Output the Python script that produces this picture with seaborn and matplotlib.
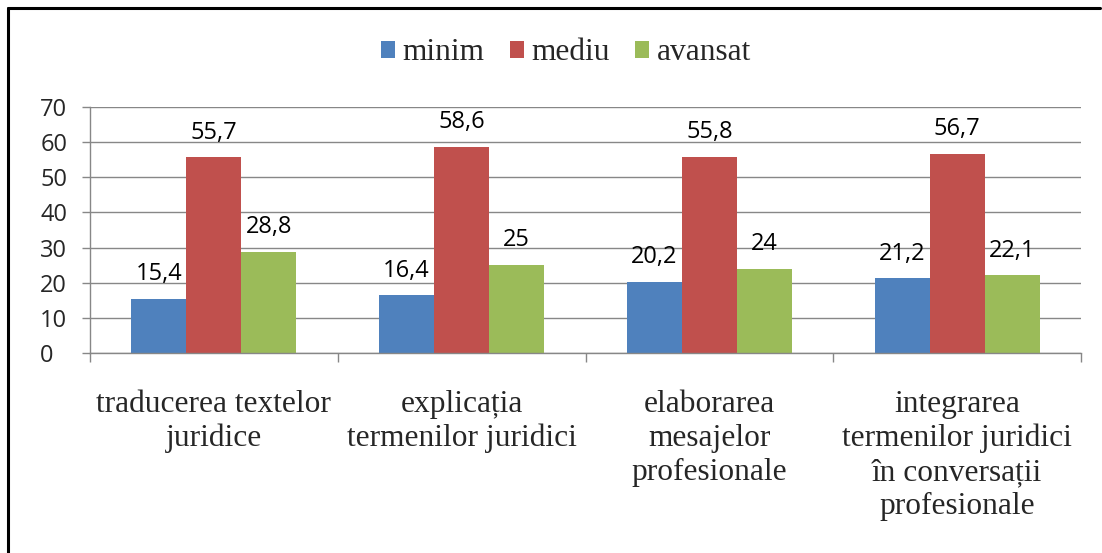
import matplotlib
matplotlib.use("Agg")
import matplotlib.pyplot as plt
from matplotlib.lines import Line2D
import seaborn as sns
import pandas as pd

# Survey results (%) per competence and level
categories = [
    "traducerea textelor\njuridice",
    "explicația\ntermenilor juridici",
    "elaborarea\nmesajelor\nprofesionale",
    "integrarea\ntermenilor juridici\nîn conversații\nprofesionale",
]
levels = ["minim", "mediu", "avansat"]
minim = [15.4, 16.4, 20.2, 21.2]
mediu = [55.7, 58.6, 55.8, 56.7]
avansat = [28.8, 25, 24, 22.1]
y_ticks = [0, 10, 20, 30, 40, 50, 60, 70]

palette = ["#4F81BD", "#C0504D", "#9BBB59"]
grid_color = "#878787"

df = pd.DataFrame({
    "categorie": categories * 3,
    "nivel": [levels[0]] * 4 + [levels[1]] * 4 + [levels[2]] * 4,
    "valoare": minim + mediu + avansat,
})

sns.set_theme(style="white")
plt.rcParams["font.family"] = ["Open Sans", "DejaVu Sans"]
serif = ["Liberation Serif", "DejaVu Serif"]

W, H = 1102, 553
fig = plt.figure(figsize=(W / 100, H / 100), dpi=100)
ax = fig.add_axes([90 / W, 1 - 353 / H, (1081 - 90) / W, (353 - 107) / H])

sns.barplot(data=df, x="categorie", y="valoare", hue="nivel", order=categories,
            hue_order=levels, palette=palette, width=0.667, linewidth=0,
            saturation=1, ax=ax)

# value labels above each bar
for container in ax.containers:
    for bar in container:
        v = bar.get_height()
        txt = (f"{v:g}").replace(".", ",")
        ax.annotate(txt, (bar.get_x() + bar.get_width() / 2, v),
                    xytext=(0, 13.5), textcoords="offset points",
                    ha="center", va="baseline", fontsize=17, color="#000000")

ax.set_ylim(0, 70)
ax.set_xlim(-0.5, len(categories) - 0.5)
ax.set_yticks(y_ticks)
ax.set_xlabel("")
ax.set_ylabel("")

# horizontal gridlines
ax.yaxis.grid(True, color=grid_color, linewidth=1.0)
ax.set_axisbelow(True)

for s in ["top", "right"]:
    ax.spines[s].set_visible(False)
for s in ["left", "bottom"]:
    ax.spines[s].set_color(grid_color)
    ax.spines[s].set_linewidth(1.0)

# category boundaries as major ticks, names centred as minor ticks
n = len(categories)
ax.set_xticks([i - 0.5 for i in range(n + 1)])
ax.set_xticklabels([])
ax.set_xticks(list(range(n)), minor=True)
ax.set_xticklabels(categories, minor=True, fontsize=22.6, family=serif,
                   linespacing=1.22)
ax.tick_params(axis="x", which="major", direction="out", length=6.5,
               width=1.0, color=grid_color, bottom=True)
ax.tick_params(axis="x", which="minor", length=0, pad=26.5, bottom=True)

ax.tick_params(axis="y", direction="out", length=5.8, width=1.0,
               color=grid_color, left=True, labelsize=17, pad=30)
for lab in ax.get_yticklabels():
    lab.set_horizontalalignment("left")

handles, labels = ax.get_legend_handles_labels()
ax.get_legend().remove()
fig.legend(handles, labels, loc="center", bbox_to_anchor=(566 / W, 1 - 53 / H),
           ncol=3, frameon=False, prop={"family": serif, "size": 22.6},
           handlelength=0.45, handleheight=0.45, handletextpad=0.25,
           columnspacing=0.8, borderpad=0)

# outer chart frame
fig.add_artist(Line2D([8 / W, 1100 / W], [1 - 8 / H, 1 - 8 / H],
                      transform=fig.transFigure, color="black", linewidth=2.2))
fig.add_artist(Line2D([8 / W, 8 / W], [1 - 8 / H, 0],
                      transform=fig.transFigure, color="black", linewidth=2.2))

fig.savefig("out.png", dpi=100)
